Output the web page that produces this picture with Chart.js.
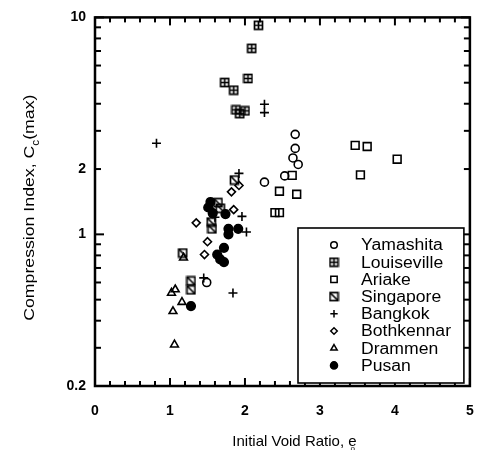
<!DOCTYPE html>
<html>
<head>
<meta charset="utf-8">
<script src="https://cdn.jsdelivr.net/npm/chart.js@4/dist/chart.umd.min.js"></script>
<style>
  html, body { margin: 0; padding: 0; background: #fff; }
  canvas { display: block; }
</style>
</head>
<body>
<canvas id="chart" width="477" height="450"></canvas>
<script>
// Initial void ratio (e) and maximum compression index (Cc) per clay site
const yamashitaE   = [2.67, 2.67, 2.64, 2.71, 2.53, 2.26, 1.49];
const yamashitaCc  = [2.89, 2.49, 2.25, 2.10, 1.86, 1.74, 0.60];

const louisevilleE  = [2.18, 2.09, 2.04, 1.73, 1.85, 1.88, 1.93, 2.00];
const louisevilleCc = [9.2, 7.2, 5.23, 5.01, 4.62, 3.75, 3.60, 3.71];

const ariakeE  = [2.63, 2.46, 2.69, 3.47, 3.63, 4.03, 3.54, 2.40, 2.46];
const ariakeCc = [1.87, 1.58, 1.53, 2.57, 2.54, 2.22, 1.88, 1.26, 1.26];

const singaporeE  = [1.64, 1.67, 1.55, 1.56, 1.17, 1.28, 1.28, 1.86];
const singaporeCc = [1.40, 1.32, 1.14, 1.06, 0.82, 0.61, 0.555, 1.78];

const bangkokE  = [0.82, 2.26, 2.26, 1.92, 1.96, 2.02, 1.84, 1.60, 1.45];
const bangkokCc = [2.63, 3.98, 3.64, 1.91, 1.21, 1.025, 0.537, 1.20, 0.63];

const bothkennarE  = [1.35, 1.50, 1.46, 1.85, 1.82, 1.92, 1.57];
const bothkennarCc = [1.13, 0.925, 0.807, 1.30, 1.57, 1.68, 1.27];

const drammenE  = [1.02, 1.07, 1.04, 1.16, 1.06, 1.18];
const drammenCc = [0.537, 0.557, 0.442, 0.487, 0.31, 0.78];

const pusanE  = [1.54, 1.51, 1.74, 1.78, 1.91, 1.78, 1.72, 1.63, 1.67, 1.72, 1.28, 1.57];
const pusanCc = [1.41, 1.33, 1.24, 1.06, 1.06, 1.00, 0.867, 0.807, 0.766, 0.745, 0.467, 1.25];

const siteNames = ['Yamashita', 'Louiseville', 'Ariake', 'Singapore', 'Bangkok', 'Bothkennar', 'Drammen', 'Pusan'];

// Axis tick labels
const xTickLabels = ['0', '1', '2', '3', '4', '5'];
const yTickValues = [0.2, 1, 2, 10];
const yTickLabels = ['0.2', '1', '2', '10'];

const FONT = '"Liberation Sans", Arial, Helvetica, sans-serif';
const LEGEND_STRETCH = 1.1;

// Small bitmap markers for the boxed symbols
function boxedSymbol(kind) {
  const s = 11;
  const c = document.createElement('canvas');
  c.width = s; c.height = s;
  const g = c.getContext('2d');
  g.strokeStyle = '#000';
  g.lineWidth = 1.7;
  g.strokeRect(1.5, 1.5, 8, 8);
  g.beginPath();
  if (kind === 'grid') {
    g.moveTo(5.5, 1.5); g.lineTo(5.5, 9.5);
    g.moveTo(1.5, 5.5); g.lineTo(9.5, 5.5);
  } else if (kind === 'diag') {
    g.moveTo(1.5, 1.5); g.lineTo(9.5, 9.5);
  }
  g.stroke();
  return c;
}

const pts = (xs, ys) => xs.map((x, i) => ({ x: x, y: ys[i] }));

function series(label, xs, ys, style, radius, filled) {
  return {
    label: label,
    data: pts(xs, ys),
    pointStyle: style,
    pointRadius: radius,
    pointHoverRadius: radius,
    pointBorderColor: '#000',
    pointBackgroundColor: filled ? '#000' : 'rgba(0,0,0,0)',
    pointBorderWidth: 1.6,
    borderColor: '#000',
    backgroundColor: filled ? '#000' : 'rgba(0,0,0,0)',
    showLine: false
  };
}

const datasets = [
  series(siteNames[0], yamashitaE, yamashitaCc, 'circle', 4, false),
  series(siteNames[1], louisevilleE, louisevilleCc, boxedSymbol('grid'), 5, false),
  series(siteNames[2], ariakeE, ariakeCc, 'rect', 5.5, false),
  series(siteNames[3], singaporeE, singaporeCc, boxedSymbol('diag'), 5, false),
  series(siteNames[4], bangkokE, bangkokCc, 'cross', 4.5, false),
  series(siteNames[5], bothkennarE, bothkennarCc, 'rectRot', 4, false),
  series(siteNames[6], drammenE, drammenCc, 'triangle', 4.5, false),
  series(siteNames[7], pusanE, pusanCc, 'circle', 4.3, true)
];

function line(ctx, x1, y1, x2, y2) {
  ctx.beginPath(); ctx.moveTo(x1, y1); ctx.lineTo(x2, y2); ctx.stroke();
}

function stretchedText(ctx, text, x, y, k) {
  ctx.save();
  ctx.translate(x, y);
  ctx.scale(k, 1);
  ctx.textAlign = 'left';
  ctx.fillText(text, 0, 0);
  ctx.restore();
}

// Frame, inward tick marks, axis titles and the boxed legend
const decorations = {
  id: 'decorations',
  afterDraw(chart) {
    const ctx = chart.ctx;
    const a = chart.chartArea;
    const xs = chart.scales.x, ys = chart.scales.y;
    ctx.save();
    ctx.strokeStyle = '#000';
    ctx.fillStyle = '#000';

    // minor/major ticks on the linear axis, every 0.2
    ctx.lineWidth = 2;
    for (let i = 0; i <= 25; i++) {
      const px = xs.getPixelForValue(i * 0.2);
      const len = i % 5 === 0 ? 8 : 5;
      line(ctx, px, a.bottom, px, a.bottom - len);
      line(ctx, px, a.top, px, a.top + len);
    }
    // logarithmic ticks 0.2 ... 10
    const logTicks = [];
    for (let d = 0.1; d <= 1; d *= 10) {
      for (let m = 1; m <= 9; m++) logTicks.push(+(m * d).toFixed(2));
    }
    logTicks.push(10);
    logTicks.forEach(v => {
      if (v < 0.2 || v > 10) return;
      const py = ys.getPixelForValue(v);
      const len = (v === 1 || v === 10) ? 9 : 6;
      line(ctx, a.left, py, a.left + len, py);
      line(ctx, a.right, py, a.right - len, py);
    });

    // legend box in the lower right corner of the plot
    const L = 298, T = 228, R = a.right - 6, B = a.bottom - 3;
    ctx.lineWidth = 1.6;
    ctx.fillStyle = '#fff';
    ctx.fillRect(L, T, R - L, B - T);
    ctx.strokeRect(L, T, R - L, B - T);
    ctx.font = '16px ' + FONT;
    ctx.textBaseline = 'middle';
    chart.data.datasets.forEach((ds, i) => {
      const yy = 245 + i * 17.2;
      ctx.fillStyle = ds.pointBackgroundColor;
      ctx.strokeStyle = '#000';
      ctx.lineWidth = 1.5;
      Chart.helpers.drawPoint(ctx, {
        pointStyle: ds.pointStyle,
        radius: ds.pointRadius * 0.82,
        borderWidth: 1.5,
        rotation: 0
      }, 334, yy);
      ctx.fillStyle = '#000';
      stretchedText(ctx, ds.label, 361, yy + 1, LEGEND_STRETCH);
    });

    // frame
    ctx.strokeStyle = '#000';
    ctx.lineWidth = 2.5;
    ctx.strokeRect(a.left, a.top, a.right - a.left, a.bottom - a.top);

    // x-axis title with subscript
    ctx.fillStyle = '#000';
    ctx.textBaseline = 'alphabetic';
    ctx.font = '15px ' + FONT;
    const xTitle = 'Initial Void Ratio, e';
    const wx = ctx.measureText(xTitle).width;
    const cx = (a.left + a.right) / 2 + 12;
    ctx.textAlign = 'left';
    ctx.fillText(xTitle, cx - wx / 2, 446);
    ctx.font = '8px ' + FONT;
    ctx.fillText('o', cx + wx / 2 - 6, 451);

    // y-axis title with subscript
    ctx.save();
    ctx.translate(34, (a.top + a.bottom) / 2 + 6);
    ctx.rotate(-Math.PI / 2);
    const k = 1.18;
    const p1 = 'Compression Index, C';
    const p3 = '(max)';
    ctx.font = '15px ' + FONT;
    const w1 = ctx.measureText(p1).width;
    const w3 = ctx.measureText(p3).width;
    ctx.font = '10px ' + FONT;
    const w2 = ctx.measureText('c').width;
    let px = -(w1 + w2 + w3) * k / 2;
    ctx.font = '15px ' + FONT;
    stretchedText(ctx, p1, px, 0, k);
    px += w1 * k;
    ctx.font = '10px ' + FONT;
    stretchedText(ctx, 'c', px, 5, k);
    px += w2 * k;
    ctx.font = '15px ' + FONT;
    stretchedText(ctx, p3, px, 0, k);
    ctx.restore();

    ctx.restore();
  }
};

new Chart(document.getElementById('chart'), {
  type: 'scatter',
  data: { datasets: datasets },
  options: {
    responsive: false,
    animation: false,
    devicePixelRatio: 1,
    layout: { padding: { top: 15, right: 7, left: 0, bottom: 0 } },
    plugins: {
      legend: { display: false },
      tooltip: { enabled: false }
    },
    scales: {
      x: {
        type: 'linear',
        min: 0,
        max: 5,
        grid: { display: false, drawTicks: false, tickLength: 0 },
        border: { display: false },
        afterFit(scale) {
          scale.height = 64;
          scale.paddingLeft = 0;
          scale.paddingRight = 0;
        },
        ticks: {
          stepSize: 1,
          autoSkip: false,
          maxRotation: 0,
          padding: 17,
          color: '#000',
          font: { family: FONT, size: 14, weight: 'bold' },
          callback: (v) => xTickLabels[Math.round(v)] ?? ''
        }
      },
      y: {
        type: 'logarithmic',
        min: 0.2,
        max: 10,
        grid: { display: false, drawTicks: false, tickLength: 0 },
        border: { display: false },
        afterFit(scale) { scale.width = 95; },
        afterBuildTicks(scale) {
          scale.ticks = yTickValues.map(v => ({ value: v }));
        },
        ticks: {
          autoSkip: false,
          padding: 9,
          color: '#000',
          font: { family: FONT, size: 14, weight: 'bold' },
          callback: (v) => {
            const i = yTickValues.indexOf(v);
            return i >= 0 ? yTickLabels[i] : '';
          }
        }
      }
    }
  },
  plugins: [decorations]
});
</script>
</body>
</html>
